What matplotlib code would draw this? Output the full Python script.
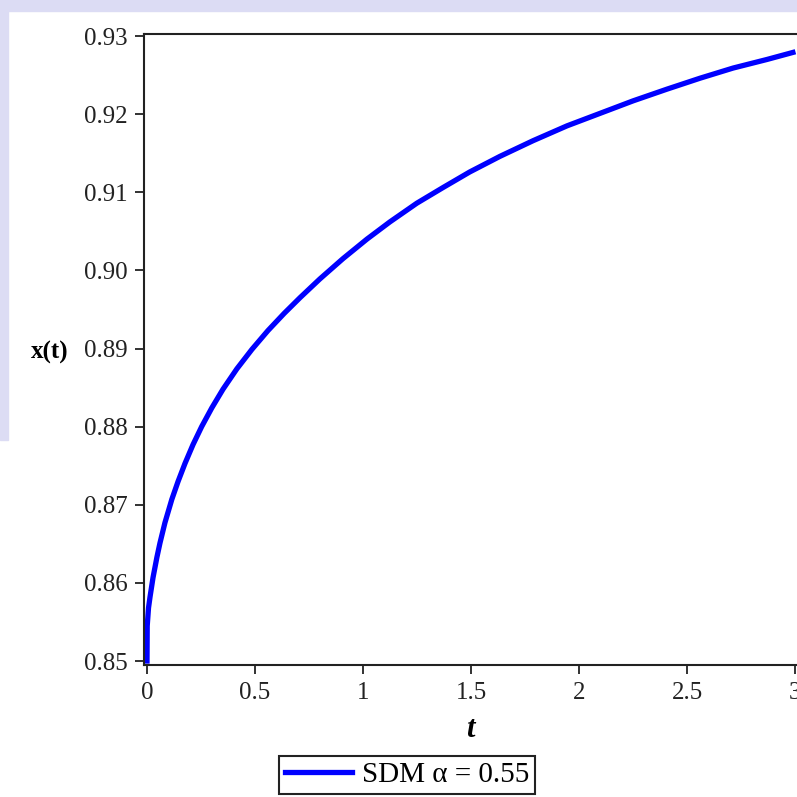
import matplotlib
matplotlib.use("Agg")
import matplotlib.pyplot as plt
from matplotlib.patches import Rectangle

# values
t = [0, 0.001, 0.007, 0.014, 0.028, 0.046, 0.06, 0.083, 0.115, 0.144,
     0.176, 0.213, 0.253, 0.30, 0.352, 0.416, 0.486, 0.56, 0.635, 0.708,
     0.80, 0.907, 1.018, 1.124, 1.249, 1.37, 1.494, 1.634, 1.787, 1.944,
     2.097, 2.25, 2.407, 2.56, 2.713, 2.87, 2.99]
x = [0.8500, 0.8545, 0.8568, 0.8582, 0.8607, 0.8633, 0.8651, 0.8677, 0.8707, 0.8730,
     0.8753, 0.8777, 0.8800, 0.8824, 0.8848, 0.8874, 0.8899, 0.8923, 0.8945, 0.8965,
     0.8989, 0.9015, 0.9040, 0.9062, 0.9086, 0.9106, 0.9126, 0.9146, 0.9166, 0.9185,
     0.9201, 0.9217, 0.9232, 0.9246, 0.9259, 0.9270, 0.9279]

xticks = [0, 0.5, 1, 1.5, 2, 2.5, 3]
xticklabels = ['0', '0.5', '1', '1.5', '2', '2.5', '3']
yticks = [0.85, 0.86, 0.87, 0.88, 0.89, 0.90, 0.91, 0.92, 0.93]
yticklabels = ['0.85', '0.86', '0.87', '0.88', '0.89', '0.90', '0.91', '0.92', '0.93']

plt.rcParams['font.family'] = ['Liberation Serif', 'DejaVu Serif']

fig = plt.figure(figsize=(7.97, 7.97), dpi=100)

# faint page background strips around the white panel
fig.patches.append(Rectangle((0, 1 - 11 / 797), 1, 11 / 797, transform=fig.transFigure,
                             color='#dcdcf4', zorder=-10))
fig.patches.append(Rectangle((0, 1 - 440 / 797), 8 / 797, 440 / 797, transform=fig.transFigure,
                             color='#dcdcf4', zorder=-10))

ax = fig.add_axes([144 / 797, 1 - 665 / 797, 1 - 144 / 797, 631 / 797])
ax.plot(t, x, color='#0000ff', lw=3.8, label='SDM α = 0.55', solid_joinstyle='round')

ax.set_xlim(-0.0139, 3.009)
ax.set_ylim(0.84949, 0.93026)
ax.set_xticks(xticks)
ax.set_xticklabels(xticklabels)
ax.set_yticks(yticks)
ax.set_yticklabels(yticklabels)
ax.tick_params(direction='out', length=6.5, width=1.3, labelsize=18, colors='#222222')
ax.tick_params(axis='y', pad=5)
ax.tick_params(axis='x', pad=6)
for s in ['left', 'bottom', 'top']:
    ax.spines[s].set_linewidth(1.5)
    ax.spines[s].set_color('#222222')
ax.spines['right'].set_visible(False)

ax.set_xlabel('t', fontsize=22, fontweight='bold', fontstyle='italic')
ax.xaxis.set_label_coords(0.50, -0.08)
ax.set_ylabel('x(t)', fontsize=18, fontweight='bold', rotation=0, ha='center', va='center')
ax.yaxis.set_label_coords(-0.144, 0.496)

leg = ax.legend(loc='center', bbox_to_anchor=(0.5107, 0.0276), bbox_transform=fig.transFigure,
                fancybox=False, edgecolor='#222222', fontsize=21, handlelength=2.3,
                handletextpad=0.35, borderpad=0.2, borderaxespad=0, framealpha=1)
leg.get_frame().set_linewidth(1.5)

fig.savefig('out.png', dpi=100)
